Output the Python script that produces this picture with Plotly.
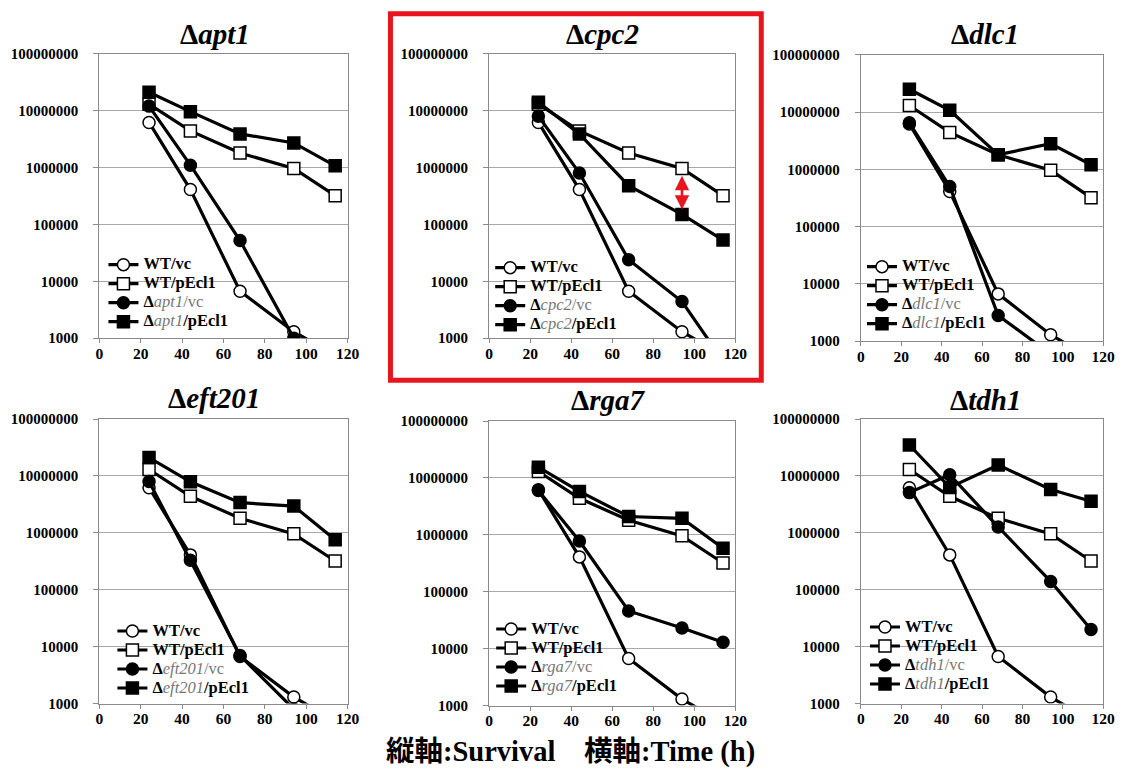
import plotly.graph_objects as go

# ---------------- data ----------------
TIME_H = [24, 44, 68, 94, 114]

WT_VC = [6.2e6, 4.1e5, 6.7e3, 1.3e3, 5.0e2]
WT_PECL1 = [1.3e7, 4.4e6, 1.8e6, 9.6e5, 3.2e5]

APT1_VC = [1.2e7, 1.1e6, 5.2e4, 1.0e3, 3.0e2]
APT1_PECL1 = [2.1e7, 9.6e6, 3.9e6, 2.7e6, 1.07e6]
CPC2_VC = [8.0e6, 8.0e5, 2.4e4, 4.4e3, 4.0e2]
CPC2_PECL1 = [1.4e7, 3.9e6, 4.8e5, 1.5e5, 5.3e4]
DLC1_VC = [6.5e6, 5.0e5, 2.8e3, 6.0e2, 1.5e2]
DLC1_PECL1 = [2.5e7, 1.07e7, 1.8e6, 2.8e6, 1.2e6]
EFT201_VC = [8.0e6, 3.3e5, 7.0e3, 8.0e2, 2.0e2]
EFT201_PECL1 = [2.1e7, 7.9e6, 3.4e6, 2.95e6, 7.6e5]
RGA7_VC = [6.0e6, 7.8e5, 4.6e4, 2.3e4, 1.3e4]
RGA7_PECL1 = [1.55e7, 5.8e6, 2.1e6, 1.95e6, 5.8e5]
TDH1_VC = [5.1e6, 1.05e7, 1.27e6, 1.4e5, 2.0e4]
TDH1_PECL1 = [3.5e7, 6.3e6, 1.56e7, 5.8e6, 3.6e6]

GENES = ["apt1", "cpc2", "dlc1", "eft201", "rga7", "tdh1"]
LEGEND_GENES = ["apt1", "cpc2", "dlc1", "eft201", "rga7", "tdh1"]
MUT_VC = [APT1_VC, CPC2_VC, DLC1_VC, EFT201_VC, RGA7_VC, TDH1_VC]
MUT_PECL1 = [APT1_PECL1, CPC2_PECL1, DLC1_PECL1, EFT201_PECL1, RGA7_PECL1, TDH1_PECL1]

Y_TICKS = [1e3, 1e4, 1e5, 1e6, 1e7, 1e8]
Y_TICKTEXT = ["1000", "10000", "100000", "1000000", "10000000", "100000000"]
X_TICKS = [0, 20, 40, 60, 80, 100, 120]

CAPTION = "縦軸:Survival\u3000横軸:Time (h)"

# ---------------- layout geometry ----------------
W, H = 1128, 771
# small correction between target pixels and the rendered page
SX, OX = 0.989, 2.3
SY, OY = 0.981, 7.2


def px(x):
    return (x - OX) / SX


def py(y):
    return (y - OY) / SY


# target pixel positions
PLOT_X = [(98, 347), (489, 736), (862, 1105), (98, 347), (489, 736), (862, 1105)]
PLOT_Y = [(53, 338), (53, 338), (54, 341), (419, 704), (421, 706), (419, 704)]
TITLE_POS = [(214, 33), (603, 33), (986, 33), (213, 398), (608, 400), (987, 400)]
# (legend line start, first legend entry centre)
LEGEND_POS = [(108, 265), (496, 268), (869, 267), (117, 632), (497, 630), (872, 628)]

SERIF = "Liberation Serif"
GRAY = "#777777"

fig = go.Figure()
layout = dict(
    width=W, height=H, margin=dict(l=0, r=0, t=0, b=0),
    paper_bgcolor="white", plot_bgcolor="white",
    font=dict(family=SERIF, color="black"),
    annotations=[], shapes=[],
)


def big(s):
    return "<span style='font-size:16.5px'>%s</span>" % s


for i, gene in enumerate(GENES):
    n = "" if i == 0 else str(i + 1)
    xa, ya = "x" + n, "y" + n
    leg = "legend" + n
    g = LEGEND_GENES[i]
    names = [
        big("<b>WT/vc</b>"),
        big("<b>WT/pEcl1</b>"),
        big("<b>Δ</b><span style='color:%s'><i>%s</i>/vc</span>" % (GRAY, g)),
        big("<b>Δ</b><span style='color:%s'><i>%s</i></span><b>/pEcl1</b>" % (GRAY, g)),
    ]
    series = [WT_VC, WT_PECL1, MUT_VC[i], MUT_PECL1[i]]
    symbols = ["circle", "square", "circle", "square"]
    fills = ["white", "white", "black", "black"]
    for s, nm, sym, fc in zip(series, names, symbols, fills):
        fig.add_trace(go.Scatter(
            x=TIME_H, y=s, mode="lines+markers", name=nm,
            xaxis=xa, yaxis=ya, legend=leg, cliponaxis=True,
            line=dict(color="black", width=3.2),
            marker=dict(symbol=sym, size=12, color=fc,
                        line=dict(color="black", width=1.5)),
        ))
    x0, x1 = PLOT_X[i]
    y0, y1 = PLOT_Y[i]
    layout["xaxis" + n] = dict(
        domain=[px(x0) / W, min(px(x1), 1116) / W], anchor=ya, range=[0, 120],
        tickvals=X_TICKS, ticks="outside", ticklen=4, tickcolor="#8a8a8a",
        showline=True, linecolor="#8a8a8a", linewidth=1.3, mirror=True,
        showgrid=False, zeroline=False,
        tickfont=dict(family=SERIF, size=15.5, color="black", weight="bold"),
        ticklabelstandoff=-3,
    )
    layout["yaxis" + n] = dict(
        domain=[1 - py(y1) / H, 1 - py(y0) / H], anchor=xa, type="log", range=[3, 8],
        tickvals=Y_TICKS, ticktext=Y_TICKTEXT,
        ticks="outside", ticklen=5, tickcolor="#8a8a8a",
        showline=True, linecolor="#8a8a8a", linewidth=1.3, mirror=True,
        showgrid=True, gridcolor="#a8a8a8", gridwidth=1.2, zeroline=False,
        tickfont=dict(family=SERIF, size=15, color="black", weight="bold"),
        ticklabelstandoff=12,
    )
    lx, ly = LEGEND_POS[i]
    layout[leg] = dict(
        x=(px(lx) - 6) / W, y=1 - (py(ly) - 15.5) / H, xanchor="left", yanchor="top",
        bgcolor="rgba(255,255,255,0)", borderwidth=0,
        font=dict(family=SERIF, size=12, color="black"),
        itemwidth=30, tracegroupgap=0, itemclick=False,
    )
    tx, ty = TITLE_POS[i]
    layout["annotations"].append(dict(
        x=px(tx) / W, y=1 - py(ty) / H, xref="paper", yref="paper",
        text="Δ<i>%s</i>" % gene, showarrow=False,
        xanchor="center", yanchor="middle",
        font=dict(family=SERIF, size=29, color="black", weight="bold"),
    ))

# red double arrow in the cpc2 panel
layout["annotations"].append(dict(
    x=94, y=5.26, ax=94, ay=5.88, xref="x2", yref="y2", axref="x2", ayref="y2",
    text="", showarrow=True, arrowhead=2, startarrowhead=2, arrowside="end+start",
    arrowsize=1.1, startarrowsize=1.1, arrowwidth=2.6, arrowcolor="#e8141e",
    standoff=0, startstandoff=0,
))

# caption
layout["annotations"].append(dict(
    x=px(571) / W, y=1 - min(py(757), 760) / H, xref="paper", yref="paper",
    text="<b>%s</b>" % CAPTION, showarrow=False,
    xanchor="center", yanchor="middle",
    font=dict(family="Liberation Serif, Noto Sans CJK JP", size=28.5, color="black"),
))

# red highlight frame around cpc2 panel
layout["shapes"].append(dict(
    type="rect", xref="paper", yref="paper",
    x0=px(390) / W, x1=px(762) / W, y0=1 - py(380) / H, y1=1 - py(13) / H,
    line=dict(color="#e8141e", width=5), fillcolor="rgba(0,0,0,0)",
))

fig.update_layout(**layout)
fig.write_html(
    "out.html",
    config={"displayModeBar": False},
    post_script="document.body.style.margin='0';"
                "document.documentElement.style.overflow='hidden';"
                "document.body.style.overflow='hidden';",
)
